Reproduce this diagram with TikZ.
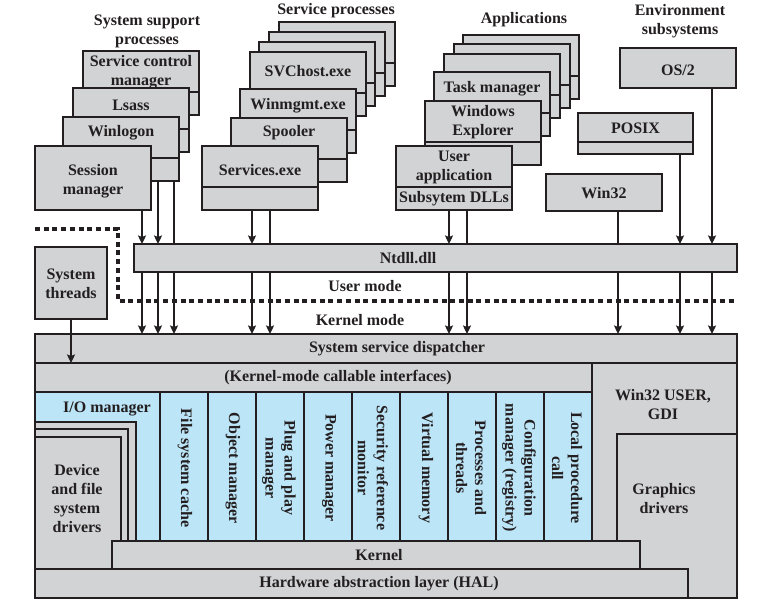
\documentclass[tikz,border=0pt]{standalone}
\usepackage{fontspec}
\setmainfont{Liberation Serif}
\usetikzlibrary{arrows.meta,calc}
\definecolor{gr}{HTML}{D1D3D4}
\definecolor{bl}{HTML}{BDE5F8}
\definecolor{ink}{HTML}{231F20}
\tikzset{
  ln/.style={draw=ink,line width=1.8pt},
  pbox/.style={draw=ink,line width=1.8pt,fill=gr,minimum width=116pt,minimum height=64pt,inner sep=0pt,outer sep=0pt,anchor=north west},
  txt/.style={font=\fontsize{16}{19}\selectfont\bfseries,text=ink,align=center,inner sep=0pt},
  arr/.style={draw=ink,line width=1.6pt,-{Stealth[length=8.5pt,width=8pt,inset=1.5pt]}},
  plain/.style={draw=ink,line width=1.6pt},
  area/.style={draw=ink,line width=1.8pt,fill=gr},
  barea/.style={draw=ink,line width=1.8pt,fill=bl},
  modeline/.style={draw=ink,line width=3.3pt,dash pattern=on 5pt off 3.7pt},
}
% stacked process box with divider: name, x, y, text, text offset
\newcommand\stk[5]{%
  \node[pbox] (#1) at (#2,#3) {};
  \draw[ln] ($(#1.north west)+(0,41)$) -- ($(#1.north east)+(0,41)$);
  \node[txt] (#1-t) at ($(#1.north)+(0,#5)$) {#4};}
% blank back box
\newcommand\stkb[3]{%
  \node[pbox] (#1) at (#2,#3) {};
  \draw[ln] ($(#1.north west)+(0,41)$) -- ($(#1.north east)+(0,41)$);}
% rectangle node: name, x1, y1, x2, y2, style
\newcommand\rct[6]{%
  \node[#6,anchor=north west,minimum width={#4pt-#2pt},minimum height={#5pt-#3pt},inner sep=0pt,outer sep=0pt] (#1) at (#2,#3) {};}
\begin{document}
\begin{tikzpicture}[x=1pt,y=-1pt]
\useasboundingbox (0,0) rectangle (757,604);

% ---------- titles ----------
\node[txt] (t-sys) at (147,31) {System support\\processes};
\node[txt] (t-svc) at (336,10.5) {Service processes};
\node[txt] (t-app) at (524,19.5) {Applications};
\node[txt] (t-env) at (680,21.5) {Environment\\subsystems};

% ---------- system support processes ----------
\stk{scm}{83}{51}{Service control\\manager}{21}
\stk{lsass}{73}{88}{Lsass}{17.5}
\stk{winl}{63}{117}{Winlogon}{16}
\node[pbox] (sess) at (35,146) {};
\node[txt] (sess-t) at ($(sess.north)+(0,35)$) {Session\\manager};

% ---------- service processes ----------
\stkb{sv1}{279}{22}
\stkb{sv2}{269}{32}
\stkb{sv3}{259}{42}
\stk{svch}{250}{52}{SVChost.exe}{19.5}
\stk{wmg}{240}{89}{Winmgmt.exe}{16.5}
\stk{spool}{231}{118}{Spooler}{14.5}
\stk{svcs}{202}{146}{Services.exe}{24.5}

% ---------- applications ----------
\stkb{ap1}{463}{35}
\stkb{ap2}{454}{44}
\stkb{ap3}{444}{54}
\stk{task}{434}{72}{Task manager}{16.5}
\stk{expl}{425}{101}{Windows\\Explorer}{21}
\stk{uapp}{396}{146}{User\\application}{21}
\node[txt] (dll-t) at ($(uapp.north)+(0,52.5)$) {Subsytem DLLs};

% ---------- environment subsystems ----------
\rct{os2}{620}{48}{736}{88}{area}
\node[txt] (os2-t) at ($(os2.center)+(0,2)$) {OS/2};
\rct{posix}{578}{113}{693}{154}{area}
\draw[ln] ($(posix.north west)+(0,29)$) -- ($(posix.north east)+(0,29)$);
\node[txt] (posix-t) at ($(posix.north)+(0,15)$) {POSIX};
\rct{win32}{546}{174}{662}{211}{area}
\node[txt] (win32-t) at ($(win32.center)+(0,1)$) {Win32};

% ---------- system threads, ntdll ----------
\rct{thr}{35}{247}{107}{319}{area}
\node[txt] (thr-t) at ($(thr.center)+(0,1)$) {System\\threads};
\rct{ntdll}{134}{244}{737}{272}{area}
\node[txt] (ntdll-t) at (408,258) {Ntdll.dll};

% ---------- user / kernel boundary ----------
\draw[modeline] (35,229) -- (118,229) -- (118,301) -- (736,301);
\node[txt] (um) at (365,286.5) {User mode};
\node[txt] (km) at (360,320.5) {Kernel mode};

% ---------- kernel region ----------
\rct{disp}{35}{334}{737}{363}{area}
\node[txt] (disp-t) at (397,349) {System service dispatcher};
\rct{call}{35}{363}{592}{392}{area}
\node[txt] (call-t) at (338,378) {(Kernel-mode callable interfaces)};
\rct{w32u}{592}{363}{737}{598}{area}
\node[txt] (w32u-t) at (663,405) {Win32 USER,\\GDI};
\rct{gfx}{617}{434}{737}{598}{area}
\node[txt] (gfx-t) at (664,499) {Graphics\\drivers};

\rct{io}{35}{392}{160}{541}{barea}
\node[txt] (io-t) at (107,409) {I/O manager};
\rct{c1}{160}{392}{208}{541}{barea}
\rct{c2}{208}{392}{256}{541}{barea}
\rct{c3}{256}{392}{304}{541}{barea}
\rct{c4}{304}{392}{352}{541}{barea}
\rct{c5}{352}{392}{400}{541}{barea}
\rct{c6}{400}{392}{448}{541}{barea}
\rct{c7}{448}{392}{496}{541}{barea}
\rct{c8}{496}{392}{544}{541}{barea}
\rct{c9}{544}{392}{592}{541}{barea}
\node[txt,rotate=-90] (c1-t) at (185,468) {File system cache};
\node[txt,rotate=-90] (c2-t) at (233,468) {Object manager};
\node[txt,rotate=-90] (c3-t) at (279,468) {Plug and play\\manager};
\node[txt,rotate=-90] (c4-t) at (329,468) {Power manager};
\node[txt,rotate=-90] (c5-t) at (373,468) {Security reference\\monitor};
\node[txt,rotate=-90] (c6-t) at (426,468) {Virtual memory};
\node[txt,rotate=-90] (c7-t) at (471,468) {Processes and\\threads};
\node[txt,rotate=-90] (c8-t) at (519,468) {Configuration\\manager (registry)};
\node[txt,rotate=-90] (c9-t) at (567,468) {Local procedure\\call};

\rct{dd1}{35}{422}{136}{569}{area}
\rct{dd2}{35}{429}{128}{569}{area}
\rct{dd3}{35}{437}{121}{569}{area}
\node[txt] (dd-t) at (77,499) {Device\\and file\\system\\drivers};

\rct{kern}{112}{541}{640}{569}{area}
\node[txt] (kern-t) at (379,555.5) {Kernel};
\rct{hal}{35}{569}{688}{598}{area}
\node[txt] (hal-t) at (379,583.5) {Hardware abstraction layer (HAL)};

% ---------- connectors ----------
\coordinate (xa) at (142,0);
\coordinate (xb) at (158,0);
\coordinate (xc) at (174,0);
\coordinate (xd) at (252,0);
\coordinate (xe) at (270,0);
\coordinate (xf) at (449,0);
\coordinate (xg) at (467,0);
\coordinate (xh) at (618,0);
\coordinate (xi) at (680,0);
\coordinate (xj) at (712,0);

\draw[arr]   (sess.south -| xa)  -- (ntdll.north -| xa);
\draw[arr]   (winl.south -| xb)  -- (ntdll.north -| xb);
\draw[plain] (winl.south -| xc)  -- (ntdll.north -| xc);
\draw[arr]   (svcs.south -| xd)  -- (ntdll.north -| xd);
\draw[plain] (svcs.south -| xe)  -- (ntdll.north -| xe);
\draw[arr]   (uapp.south -| xf)  -- (ntdll.north -| xf);
\draw[plain] (uapp.south -| xg)  -- (ntdll.north -| xg);
\draw[plain] (win32.south -| xh) -- (ntdll.north -| xh);
\draw[arr]   (posix.south -| xi) -- (ntdll.north -| xi);
\draw[arr]   (os2.south -| xj)   -- (ntdll.north -| xj);

\foreach \c in {xa,xb,xc,xd,xe,xf,xg,xh,xi,xj}
  \draw[arr] (ntdll.south -| \c) -- (disp.north -| \c);

\draw[arr] (thr.south) -- (call.north -| thr.south);
\end{tikzpicture}
\end{document}
